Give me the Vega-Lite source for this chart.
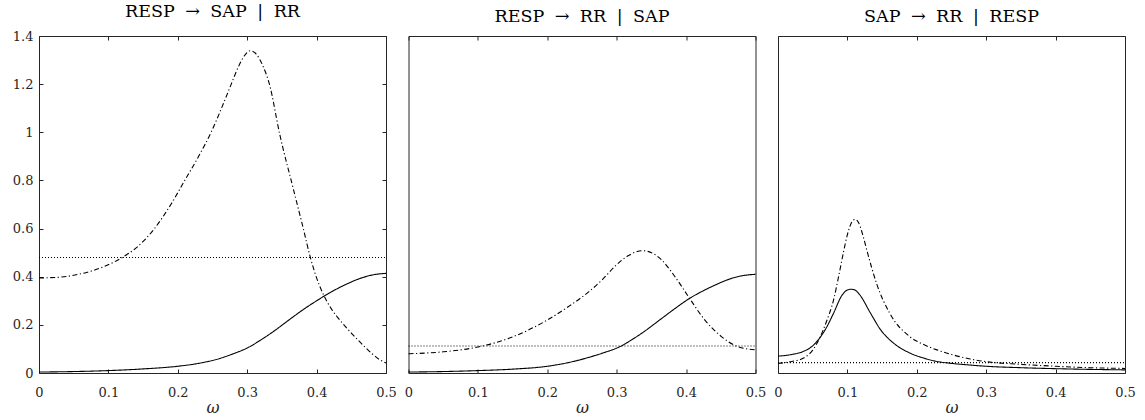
{
"$schema": "https://vega.github.io/schema/vega-lite/v6.json",
"background": "white",
"padding": {"left": 11, "top": 2, "right": 5, "bottom": 0},
"spacing": 22.5,
"bounds": "flush",
"config": {
  "view": {"stroke": "#262626", "strokeWidth": 1},
  "font": "DejaVu Serif",
  "axis": {"ticks": true, "labelFont": "DejaVu Serif", "labelFontSize": 13, "labelColor": "#262626", "tickColor": "#262626", "tickOpacity": 1, "tickSize": -4, "tickWidth": 1, "domain": false, "grid": false, "labelFlush": false, "labelOverlap": false, "titleFont": "DejaVu Serif", "titleFontWeight": "normal", "titleColor": "#262626"},
  "title": {"font": "DejaVu Serif", "fontSize": 17.5, "fontWeight": "normal", "color": "#000000", "offset": 10},
  "line": {"color": "#000000", "strokeWidth": 1.1, "interpolate": "monotone"}
},
"datasets": {"d": [
{"p":1,"s":"dashdot","w":0,"v":0.395},{"p":1,"s":"dashdot","w":0.03,"v":0.398},{"p":1,"s":"dashdot","w":0.06,"v":0.412},{"p":1,"s":"dashdot","w":0.09,"v":0.438},{"p":1,"s":"dashdot","w":0.12,"v":0.48},{"p":1,"s":"dashdot","w":0.14,"v":0.52},{"p":1,"s":"dashdot","w":0.165,"v":0.595},{"p":1,"s":"dashdot","w":0.19,"v":0.7},{"p":1,"s":"dashdot","w":0.21,"v":0.8},{"p":1,"s":"dashdot","w":0.23,"v":0.9},{"p":1,"s":"dashdot","w":0.248,"v":1.0},{"p":1,"s":"dashdot","w":0.263,"v":1.1},{"p":1,"s":"dashdot","w":0.277,"v":1.2},{"p":1,"s":"dashdot","w":0.287,"v":1.27},{"p":1,"s":"dashdot","w":0.296,"v":1.318},{"p":1,"s":"dashdot","w":0.3045,"v":1.339},{"p":1,"s":"dashdot","w":0.313,"v":1.325},{"p":1,"s":"dashdot","w":0.322,"v":1.28},{"p":1,"s":"dashdot","w":0.332,"v":1.2},{"p":1,"s":"dashdot","w":0.347,"v":0.99},{"p":1,"s":"dashdot","w":0.366,"v":0.77},{"p":1,"s":"dashdot","w":0.38,"v":0.61},{"p":1,"s":"dashdot","w":0.391,"v":0.48},{"p":1,"s":"dashdot","w":0.4,"v":0.395},{"p":1,"s":"dashdot","w":0.41,"v":0.325},{"p":1,"s":"dashdot","w":0.42,"v":0.272},{"p":1,"s":"dashdot","w":0.43,"v":0.232},{"p":1,"s":"dashdot","w":0.44,"v":0.198},{"p":1,"s":"dashdot","w":0.45,"v":0.166},{"p":1,"s":"dashdot","w":0.46,"v":0.136},{"p":1,"s":"dashdot","w":0.47,"v":0.107},{"p":1,"s":"dashdot","w":0.48,"v":0.08},{"p":1,"s":"dashdot","w":0.49,"v":0.057},{"p":1,"s":"dashdot","w":0.5,"v":0.042},
{"p":1,"s":"solid","w":0,"v":0.004},{"p":1,"s":"solid","w":0.05,"v":0.006},{"p":1,"s":"solid","w":0.1,"v":0.01},{"p":1,"s":"solid","w":0.15,"v":0.017},{"p":1,"s":"solid","w":0.2,"v":0.028},{"p":1,"s":"solid","w":0.23,"v":0.04},{"p":1,"s":"solid","w":0.26,"v":0.06},{"p":1,"s":"solid","w":0.28,"v":0.08},{"p":1,"s":"solid","w":0.3,"v":0.104},{"p":1,"s":"solid","w":0.32,"v":0.138},{"p":1,"s":"solid","w":0.34,"v":0.177},{"p":1,"s":"solid","w":0.36,"v":0.22},{"p":1,"s":"solid","w":0.38,"v":0.262},{"p":1,"s":"solid","w":0.4,"v":0.3},{"p":1,"s":"solid","w":0.42,"v":0.335},{"p":1,"s":"solid","w":0.44,"v":0.365},{"p":1,"s":"solid","w":0.46,"v":0.39},{"p":1,"s":"solid","w":0.48,"v":0.407},{"p":1,"s":"solid","w":0.5,"v":0.414},
{"p":1,"s":"dotted","w":0,"v":0.48},{"p":1,"s":"dotted","w":0.5,"v":0.48},
{"p":2,"s":"dashdot","w":0,"v":0.08},{"p":2,"s":"dashdot","w":0.05,"v":0.088},{"p":2,"s":"dashdot","w":0.1,"v":0.108},{"p":2,"s":"dashdot","w":0.15,"v":0.15},{"p":2,"s":"dashdot","w":0.2,"v":0.22},{"p":2,"s":"dashdot","w":0.23,"v":0.275},{"p":2,"s":"dashdot","w":0.26,"v":0.338},{"p":2,"s":"dashdot","w":0.28,"v":0.39},{"p":2,"s":"dashdot","w":0.297,"v":0.442},{"p":2,"s":"dashdot","w":0.317,"v":0.488},{"p":2,"s":"dashdot","w":0.337,"v":0.508},{"p":2,"s":"dashdot","w":0.35,"v":0.5},{"p":2,"s":"dashdot","w":0.365,"v":0.469},{"p":2,"s":"dashdot","w":0.384,"v":0.4},{"p":2,"s":"dashdot","w":0.405,"v":0.31},{"p":2,"s":"dashdot","w":0.427,"v":0.22},{"p":2,"s":"dashdot","w":0.451,"v":0.151},{"p":2,"s":"dashdot","w":0.475,"v":0.109},{"p":2,"s":"dashdot","w":0.5,"v":0.096},
{"p":2,"s":"solid","w":0,"v":0.004},{"p":2,"s":"solid","w":0.05,"v":0.006},{"p":2,"s":"solid","w":0.1,"v":0.01},{"p":2,"s":"solid","w":0.15,"v":0.016},{"p":2,"s":"solid","w":0.2,"v":0.028},{"p":2,"s":"solid","w":0.23,"v":0.043},{"p":2,"s":"solid","w":0.26,"v":0.065},{"p":2,"s":"solid","w":0.28,"v":0.083},{"p":2,"s":"solid","w":0.305,"v":0.11},{"p":2,"s":"solid","w":0.32,"v":0.135},{"p":2,"s":"solid","w":0.336,"v":0.165},{"p":2,"s":"solid","w":0.365,"v":0.227},{"p":2,"s":"solid","w":0.385,"v":0.27},{"p":2,"s":"solid","w":0.405,"v":0.31},{"p":2,"s":"solid","w":0.425,"v":0.342},{"p":2,"s":"solid","w":0.44,"v":0.363},{"p":2,"s":"solid","w":0.455,"v":0.382},{"p":2,"s":"solid","w":0.47,"v":0.397},{"p":2,"s":"solid","w":0.485,"v":0.406},{"p":2,"s":"solid","w":0.5,"v":0.41},
{"p":2,"s":"dotted","w":0,"v":0.112},{"p":2,"s":"dotted","w":0.5,"v":0.112},
{"p":3,"s":"solid","w":0,"v":0.07},{"p":3,"s":"solid","w":0.02,"v":0.077},{"p":3,"s":"solid","w":0.036,"v":0.089},{"p":3,"s":"solid","w":0.05,"v":0.113},{"p":3,"s":"solid","w":0.06,"v":0.145},{"p":3,"s":"solid","w":0.07,"v":0.19},{"p":3,"s":"solid","w":0.08,"v":0.248},{"p":3,"s":"solid","w":0.092,"v":0.322},{"p":3,"s":"solid","w":0.1,"v":0.345},{"p":3,"s":"solid","w":0.105,"v":0.348},{"p":3,"s":"solid","w":0.11,"v":0.346},{"p":3,"s":"solid","w":0.118,"v":0.324},{"p":3,"s":"solid","w":0.133,"v":0.25},{"p":3,"s":"solid","w":0.148,"v":0.179},{"p":3,"s":"solid","w":0.167,"v":0.123},{"p":3,"s":"solid","w":0.19,"v":0.083},{"p":3,"s":"solid","w":0.21,"v":0.062},{"p":3,"s":"solid","w":0.229,"v":0.048},{"p":3,"s":"solid","w":0.25,"v":0.04},{"p":3,"s":"solid","w":0.277,"v":0.033},{"p":3,"s":"solid","w":0.3,"v":0.028},{"p":3,"s":"solid","w":0.35,"v":0.022},{"p":3,"s":"solid","w":0.4,"v":0.018},{"p":3,"s":"solid","w":0.45,"v":0.015},{"p":3,"s":"solid","w":0.5,"v":0.013},
{"p":3,"s":"dashdot","w":0,"v":0.04},{"p":3,"s":"dashdot","w":0.02,"v":0.048},{"p":3,"s":"dashdot","w":0.036,"v":0.061},{"p":3,"s":"dashdot","w":0.05,"v":0.095},{"p":3,"s":"dashdot","w":0.06,"v":0.145},{"p":3,"s":"dashdot","w":0.07,"v":0.215},{"p":3,"s":"dashdot","w":0.08,"v":0.303},{"p":3,"s":"dashdot","w":0.088,"v":0.41},{"p":3,"s":"dashdot","w":0.094,"v":0.497},{"p":3,"s":"dashdot","w":0.1,"v":0.575},{"p":3,"s":"dashdot","w":0.106,"v":0.625},{"p":3,"s":"dashdot","w":0.111,"v":0.638},{"p":3,"s":"dashdot","w":0.116,"v":0.625},{"p":3,"s":"dashdot","w":0.122,"v":0.575},{"p":3,"s":"dashdot","w":0.128,"v":0.51},{"p":3,"s":"dashdot","w":0.142,"v":0.372},{"p":3,"s":"dashdot","w":0.161,"v":0.248},{"p":3,"s":"dashdot","w":0.19,"v":0.151},{"p":3,"s":"dashdot","w":0.21,"v":0.118},{"p":3,"s":"dashdot","w":0.229,"v":0.096},{"p":3,"s":"dashdot","w":0.25,"v":0.077},{"p":3,"s":"dashdot","w":0.277,"v":0.058},{"p":3,"s":"dashdot","w":0.3,"v":0.047},{"p":3,"s":"dashdot","w":0.35,"v":0.036},{"p":3,"s":"dashdot","w":0.4,"v":0.028},{"p":3,"s":"dashdot","w":0.45,"v":0.022},{"p":3,"s":"dashdot","w":0.5,"v":0.019},
{"p":3,"s":"dotted","w":0,"v":0.043},{"p":3,"s":"dotted","w":0.5,"v":0.043}
]},
"hconcat": [
{
  "title": "RESP\u2002\u200a→\u2002\u200aSAP\u2002\u200a|\u2002\u200aRR",
  "width": 347, "height": 337,
  "data": {"name": "d"},
  "transform": [{"filter": "datum.p == 1"}],
  "layer": [
    {"mark": {"type": "line"},
     "encoding": {
       "x": {"field": "w", "type": "quantitative", "scale": {"domain": [0, 0.5], "nice": false, "zero": false}, "axis": {"values": [0, 0.1, 0.2, 0.3, 0.4, 0.5], "format": ".1~f", "labelPadding": 17, "title": "ω", "titleFontStyle": "italic", "titleFontSize": 16, "titlePadding": 0}},
       "y": {"field": "v", "type": "quantitative", "scale": {"domain": [0, 1.4], "nice": false}, "axis": {"values": [0, 0.2, 0.4, 0.6, 0.8, 1, 1.2, 1.4], "format": ".1~f", "labelPadding": 10, "title": null}},
       "strokeDash": {"field": "s", "type": "nominal", "scale": {"domain": ["solid", "dashdot", "dotted"], "range": [[1, 0], [5, 2.5, 1.2, 2.5], [1, 2]]}, "legend": null}
     }},
    {"mark": {"type": "point", "opacity": 0},
     "encoding": {
       "x": {"field": "w", "type": "quantitative", "scale": {"domain": [0, 0.5], "nice": false, "zero": false}, "axis": {"orient": "top", "values": [0, 0.1, 0.2, 0.3, 0.4, 0.5], "labels": false, "title": null}},
       "y": {"field": "v", "type": "quantitative", "scale": {"domain": [0, 1.4], "nice": false}, "axis": {"orient": "right", "values": [0, 0.2, 0.4, 0.6, 0.8, 1, 1.2, 1.4], "labels": false, "title": null}}
     }}
  ],
  "resolve": {"axis": {"x": "independent", "y": "independent"}}
},
{
  "title": "RESP\u2002\u200a→\u2002\u200aRR\u2002\u200a|\u2002\u200aSAP",
  "width": 347, "height": 337,
  "data": {"name": "d"},
  "transform": [{"filter": "datum.p == 2"}],
  "layer": [
    {"mark": {"type": "line"},
     "encoding": {
       "x": {"field": "w", "type": "quantitative", "scale": {"domain": [0, 0.5], "nice": false, "zero": false}, "axis": {"values": [0, 0.1, 0.2, 0.3, 0.4, 0.5], "format": ".1~f", "labelPadding": 17, "title": "ω", "titleFontStyle": "italic", "titleFontSize": 16, "titlePadding": 0}},
       "y": {"field": "v", "type": "quantitative", "scale": {"domain": [0, 1.4], "nice": false}, "axis": null},
       "strokeDash": {"field": "s", "type": "nominal", "scale": {"domain": ["solid", "dashdot", "dotted"], "range": [[1, 0], [5, 2.5, 1.2, 2.5], [1, 2]]}, "legend": null}
     }},
    {"mark": {"type": "point", "opacity": 0},
     "encoding": {
       "x": {"field": "w", "type": "quantitative", "scale": {"domain": [0, 0.5], "nice": false, "zero": false}, "axis": {"orient": "top", "values": [0, 0.1, 0.2, 0.3, 0.4, 0.5], "labels": false, "title": null}},
       "y": {"field": "v", "type": "quantitative", "scale": {"domain": [0, 1.4], "nice": false}, "axis": null}
     }}
  ],
  "resolve": {"axis": {"x": "independent", "y": "independent"}}
},
{
  "title": "SAP\u2002\u200a→\u2002\u200aRR\u2002\u200a|\u2002\u200aRESP",
  "width": 347, "height": 337,
  "data": {"name": "d"},
  "transform": [{"filter": "datum.p == 3"}],
  "layer": [
    {"mark": {"type": "line"},
     "encoding": {
       "x": {"field": "w", "type": "quantitative", "scale": {"domain": [0, 0.5], "nice": false, "zero": false}, "axis": {"values": [0, 0.1, 0.2, 0.3, 0.4, 0.5], "format": ".1~f", "labelPadding": 17, "title": "ω", "titleFontStyle": "italic", "titleFontSize": 16, "titlePadding": 0}},
       "y": {"field": "v", "type": "quantitative", "scale": {"domain": [0, 1.4], "nice": false}, "axis": null},
       "strokeDash": {"field": "s", "type": "nominal", "scale": {"domain": ["solid", "dashdot", "dotted"], "range": [[1, 0], [5, 2.5, 1.2, 2.5], [1, 2]]}, "legend": null}
     }},
    {"mark": {"type": "point", "opacity": 0},
     "encoding": {
       "x": {"field": "w", "type": "quantitative", "scale": {"domain": [0, 0.5], "nice": false, "zero": false}, "axis": {"orient": "top", "values": [0, 0.1, 0.2, 0.3, 0.4, 0.5], "labels": false, "title": null}},
       "y": {"field": "v", "type": "quantitative", "scale": {"domain": [0, 1.4], "nice": false}, "axis": null}
     }}
  ],
  "resolve": {"axis": {"x": "independent", "y": "independent"}}
}
]
}
